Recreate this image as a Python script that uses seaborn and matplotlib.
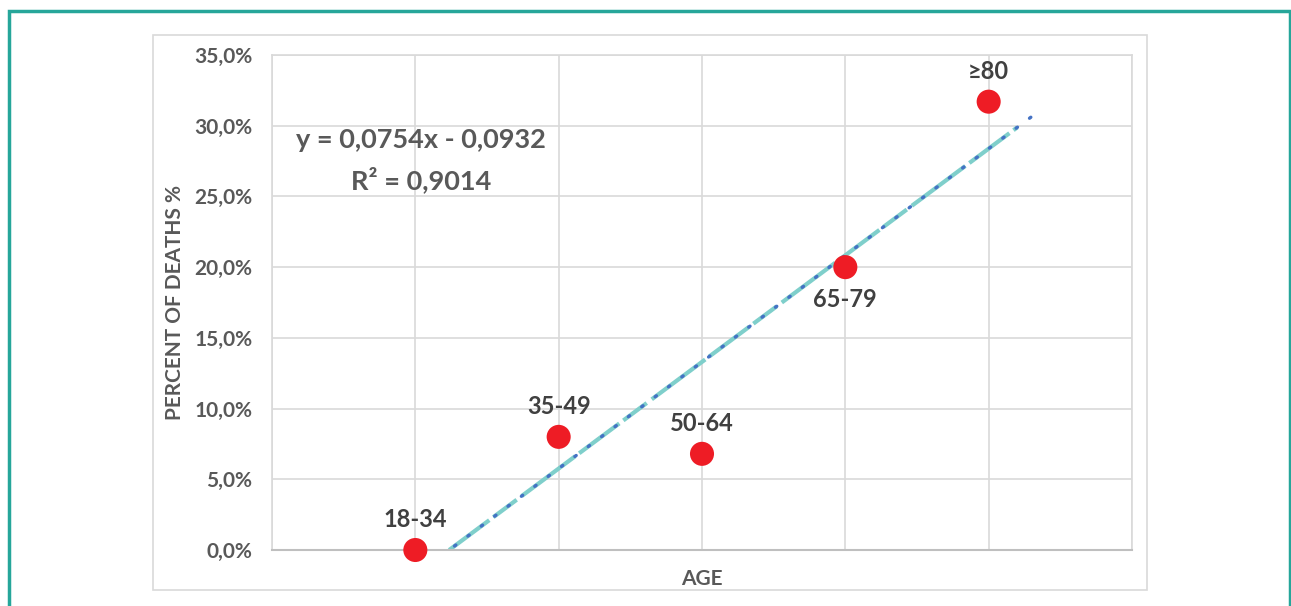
import numpy as np
import pandas as pd
import seaborn as sns
import matplotlib.pyplot as plt
from matplotlib.patches import Rectangle
from matplotlib.ticker import FuncFormatter

sns.set_theme(style="whitegrid")
plt.rcParams['font.family'] = ['Lato', 'DejaVu Sans']

# data
age_groups = ['18-34', '35-49', '50-64', '65-79', '≥80']
age_pos = [1, 2, 3, 4, 5]
deaths = [0.000, 0.080, 0.068, 0.200, 0.317]
slope, intercept, r2 = 0.0754, -0.0932, 0.9014
trend_x = [1.236, 5.2]
trend_x_dots = [1.236, 5.3]

grey = '#595959'
df = pd.DataFrame({'age': age_pos, 'deaths': deaths, 'label': age_groups})
trend = pd.DataFrame({'x': trend_x, 'y': [slope * v + intercept for v in trend_x]})
trend_dots = pd.DataFrame({'x': trend_x_dots, 'y': [slope * v + intercept for v in trend_x_dots]})

fig = plt.figure(figsize=(12.91, 6.06), dpi=100)
ax = fig.add_axes([272 / 1291, 56 / 606, 860 / 1291, 495 / 606])

# frames around figure and chart area
fig.patches.append(Rectangle((9 / 1291, -0.05), 1281 / 1291, 1.05 - 11 / 606, transform=fig.transFigure,
                             fill=False, edgecolor='#26A69A', linewidth=2.5))
fig.patches.append(Rectangle((153 / 1291, 16 / 606), 994 / 1291, 555 / 606, transform=fig.transFigure,
                             fill=False, edgecolor='#D9D9D9', linewidth=1.2))

sns.lineplot(data=trend, x='x', y='y', ax=ax, color='#7FCFCB', linewidth=3,
             linestyle=(0, (12, 1.2, 7, 1.5, 16, 1.2)), zorder=2)
sns.lineplot(data=trend_dots, x='x', y='y', ax=ax, color='#4472C4', linewidth=2.4,
             linestyle=(3, (0.5, 4.5)), zorder=3)
ax.lines[-1].set_dash_capstyle('round')
sns.scatterplot(data=df, x='age', y='deaths', ax=ax, color='#EE1C25', s=300,
                edgecolor='none', zorder=4, clip_on=False)

offsets = {'65-79': (0, -23)}
for _, r in df.iterrows():
    off = offsets.get(r['label'], (0, 22))
    ax.annotate(r['label'], (r['age'], r['deaths']), xytext=off, textcoords='offset points',
                ha='center', va='center', fontsize=17, fontweight='bold', color='#404040')

eq = f'y = {slope:.4f}x - {-intercept:.4f}'.replace('.', ',')
ax.text(1.04, 0.290, eq, ha='center', va='center', fontsize=19.5, fontweight='bold', color=grey)
ax.text(1.04, 0.262, f'R² = {r2:.4f}'.replace('.', ','),
        ha='center', va='center', fontsize=19.5, fontweight='bold', color=grey)

ax.set_xlim(0, 6)
ax.set_ylim(0, 0.35)
ax.set_xticks(range(0, 7))
ax.set_yticks(np.arange(0, 0.351, 0.05))
ax.set_xticklabels([])
ax.yaxis.set_major_formatter(FuncFormatter(lambda v, p: f'{v * 100:.1f}%'.replace('.', ',')))
ax.tick_params(axis='y', labelsize=15, labelcolor=grey, pad=14, length=0)
ax.tick_params(axis='x', length=0)
for lbl in ax.get_yticklabels():
    lbl.set_fontweight('bold')
ax.grid(True, color='#D9D9D9', linewidth=1.2)
for side in ['left', 'right', 'top']:
    ax.spines[side].set_color('#D9D9D9')
    ax.spines[side].set_linewidth(1.2)
ax.spines['bottom'].set_color('#BFBFBF')
ax.spines['bottom'].set_linewidth(1.5)

ax.set_xlabel('AGE', fontsize=15, fontweight='bold', color=grey, labelpad=10)
ax.set_ylabel('PERCENT OF DEATHS %', fontsize=15, fontweight='bold', color=grey, labelpad=7)

plt.savefig('out.png', dpi=100)
